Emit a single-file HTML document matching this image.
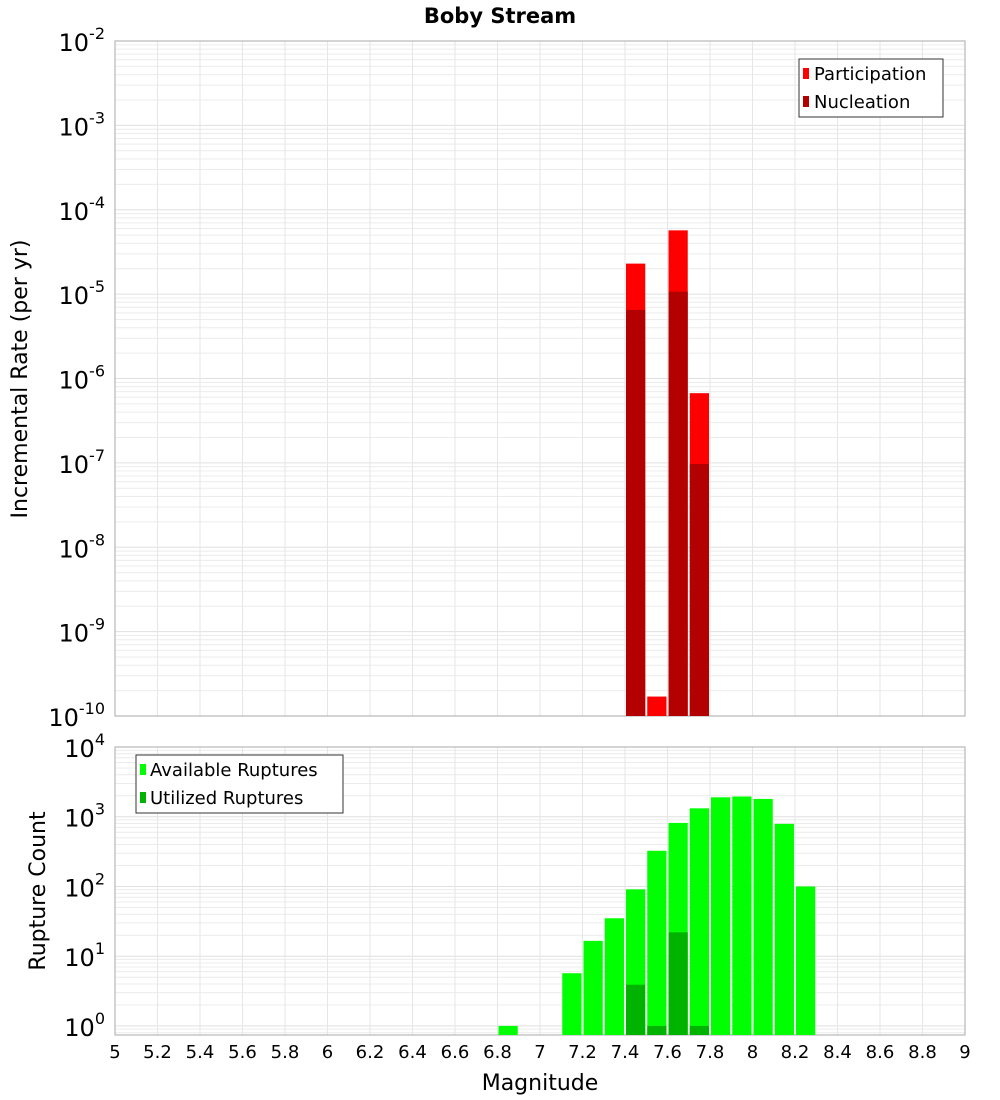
<!DOCTYPE html>
<html><head><meta charset="utf-8"><style>
html,body{margin:0;padding:0;background:#fff;}
svg{display:block;font-family:"DejaVu Sans","Liberation Sans",sans-serif;}
</style></head><body>
<svg id="chart" width="1000" height="1100" viewBox="0 0 1000 1100">
<text x="500" y="23" text-anchor="middle" font-size="21" font-weight="bold">Boby Stream</text>
<g id="top"></g>
<g id="bot"></g>
<text transform="translate(27,379) rotate(-90)" text-anchor="middle" font-size="22">Incremental Rate (per yr)</text>
<text transform="translate(45,891) rotate(-90)" text-anchor="middle" font-size="22">Rupture Count</text>
<text x="540" y="1090" text-anchor="middle" font-size="22">Magnitude</text>
<g>
<rect x="799" y="59" width="144" height="58" fill="#fff" stroke="#333" stroke-width="1"/>
<rect x="803" y="68" width="6" height="11" fill="#ff0000"/>
<text x="814" y="80" font-size="18">Participation</text>
<rect x="803" y="96" width="6" height="11" fill="#b30000"/>
<text x="814" y="108" font-size="18">Nucleation</text>
</g>
<g>
<rect x="136" y="755" width="207" height="58" fill="#fff" stroke="#333" stroke-width="1"/>
<rect x="140" y="764" width="6" height="11" fill="#00ff00"/>
<text x="150" y="776" font-size="18">Available Ruptures</text>
<rect x="140" y="792" width="6" height="11" fill="#00b300"/>
<text x="150" y="804" font-size="18">Utilized Ruptures</text>
</g>
</svg>
<script>
const binCenters=[7.45,7.55,7.65,7.75];
const participation=[2.3e-5,1.7e-10,5.7e-5,6.7e-7];
const nucleation=[6.5e-6,0,1.07e-5,9.7e-8];
const countBins=[6.85,7.15,7.25,7.35,7.45,7.55,7.65,7.75,7.85,7.95,8.05,8.15,8.25];
const available=[1,5.7,16.6,35,91,325,815,1320,1900,1950,1800,790,100];
const utilizedBins=[7.45,7.55,7.65,7.75];
const utilized=[3.9,1,22,1];
const xTicks=[5,5.2,5.4,5.6,5.8,6,6.2,6.4,6.6,6.8,7,7.2,7.4,7.6,7.8,8,8.2,8.4,8.6,8.8,9];
const topExps=[-2,-3,-4,-5,-6,-7,-8,-9,-10];
const botExps=[4,3,2,1,0];

const NS="http://www.w3.org/2000/svg";
const L=115,R=965;
const xs=m=>L+(m-5)/4*(R-L);
function mk(tag,attrs,parent){const e=document.createElementNS(NS,tag);for(const k in attrs)e.setAttribute(k,attrs[k]);parent.appendChild(e);return e;}
function panel(g,top,bot,lmin,lmax,exps,name){
  const ys=v=>bot-(Math.log10(v)-lmin)/(lmax-lmin)*(bot-top);
  // grid
  for(let d=Math.floor(lmin);d<lmax;d++){for(let k=1;k<10;k++){const v=k*Math.pow(10,d);const lv=Math.log10(v);if(lv<lmin||lv>lmax)continue;
    const y=ys(v);const ln=mk('line',{x1:L,x2:R,y1:y,y2:y,stroke:k==1?'#e0e0e0':'#ececec','stroke-width':1},g);
    
    }}
  xTicks.forEach(t=>{const x=xs(t);const ln=mk('line',{x1:x,x2:x,y1:top,y2:bot,stroke:'#e6e6e6','stroke-width':1},g);
    
    });
  const fr=mk('rect',{x:L,y:top,width:R-L,height:bot-top,fill:'none',stroke:'#aaa','stroke-width':1},g);
  
  
  exps.forEach(e=>{const y=ys(Math.pow(10,e));const t=mk('text',{x:105,y:y+10,'text-anchor':'end','font-size':24},g);
    
    
    t.textContent='10';
    const s=mk('tspan',{dy:-12,'font-size':16},t);s.textContent=String(e);});
  return ys;
}
function bars(g,centers,vals,color,ys,bot,name){
  centers.forEach((c,i)=>{const v=vals[i];if(!(v>0))return;const x0=xs(c-0.05)+1,x1=xs(c+0.05)-1;const y=Math.max(ys(v),0);
    const r=mk('rect',{x:x0,y:y,width:x1-x0,height:bot-y,fill:color},g);
    
    });
}
const gt=document.getElementById('top'),gb=document.getElementById('bot');
const yT=panel(gt,41,716,-10,-2,topExps,'top');
bars(gt,binCenters,participation,'#ff0000',yT,716,'participation');
bars(gt,binCenters,nucleation,'#b30000',yT,716,'nucleation');
const yB=panel(gb,747,1035,-0.13,4,botExps,'bottom');
bars(gb,countBins,available,'#00ff00',yB,1035,'available');
bars(gb,utilizedBins,utilized,'#00b300',yB,1035,'utilized');
xTicks.forEach(t=>{const tx=mk('text',{x:xs(t),y:1058,'text-anchor':'middle','font-size':18},gb);
  
  
  tx.textContent=String(t);});
</script>
</body></html>
